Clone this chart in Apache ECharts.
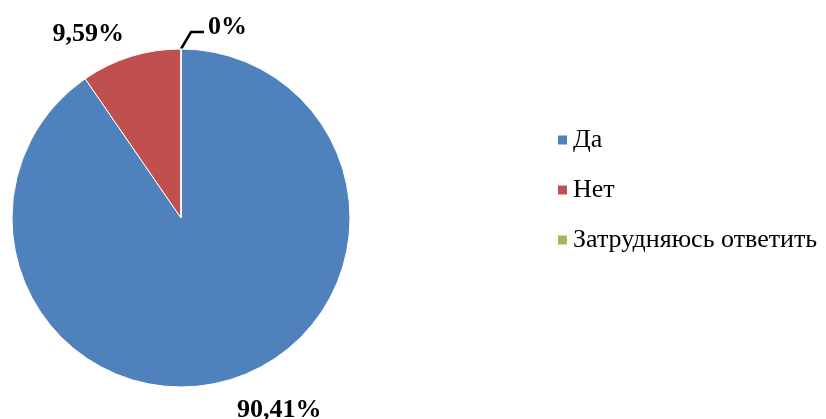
<!DOCTYPE html>
<html>
<head>
<meta charset="utf-8">
<script src="https://cdn.jsdelivr.net/npm/echarts@6/dist/echarts.min.js"></script>
<style>
  html, body { margin: 0; padding: 0; background: #fff; }
  #chart { width: 826px; height: 419px; }
</style>
</head>
<body>
<div id="chart"></div>
<script>
const categories = ['Да', 'Нет', 'Затрудняюсь ответить']
const values = [90.41, 9.59, 0]
const labels = ['90,41%', '9,59%', '0%']
const COLORS = ['#4F81BD', '#C0504D', '#9BBB59']
const SERIF = "'Liberation Serif', 'Times New Roman', serif"

const chart = echarts.init(document.getElementById('chart'))

chart.setOption({
  color: COLORS,
  backgroundColor: '#fff',
  animation: false,
  legend: {
    orient: 'vertical',
    left: 551,
    top: 122,
    itemWidth: 11,
    itemHeight: 11,
    itemGap: 24,
    icon: 'rect',
    textStyle: { fontFamily: SERIF, fontSize: 26, color: '#000' },
    data: categories,
  },
  series: [{
    type: 'pie',
    center: [181, 218],
    radius: 169,
    startAngle: 90,
    clockwise: true,
    itemStyle: { borderColor: '#fff', borderWidth: 1 },
    label: {
      position: 'outside',
      fontFamily: SERIF,
      fontWeight: 'bold',
      fontSize: 26,
      color: '#000',
      formatter: (p) => labels[p.dataIndex],
    },
    labelLine: { show: false, length: 16, length2: 12, lineStyle: { color: '#000', width: 2.5 } },
    labelLayout: (p) => {
      if (p.dataIndex === 0) return { dx: -16, dy: 16 }
      if (p.dataIndex === 1) return { dx: 15, dy: -7 }
      // 0% — косая выноска как в Excel
      const pts = p.labelLinePoints
      if (!pts) return { dx: 10, dy: -6 }
      const x0 = pts[0][0]
      const y0 = pts[0][1]
      return {
        dx: 10,
        dy: -6,
        labelLinePoints: [[x0, y0], [x0 + 10, y0 - 17], [x0 + 23, y0 - 17]],
      }
    },
    emphasis: { disabled: true },
    data: categories.map((c, i) => ({
      name: c,
      value: values[i],
      labelLine: { show: i === 2 },
    })),
  }],
})
</script>
</body>
</html>
